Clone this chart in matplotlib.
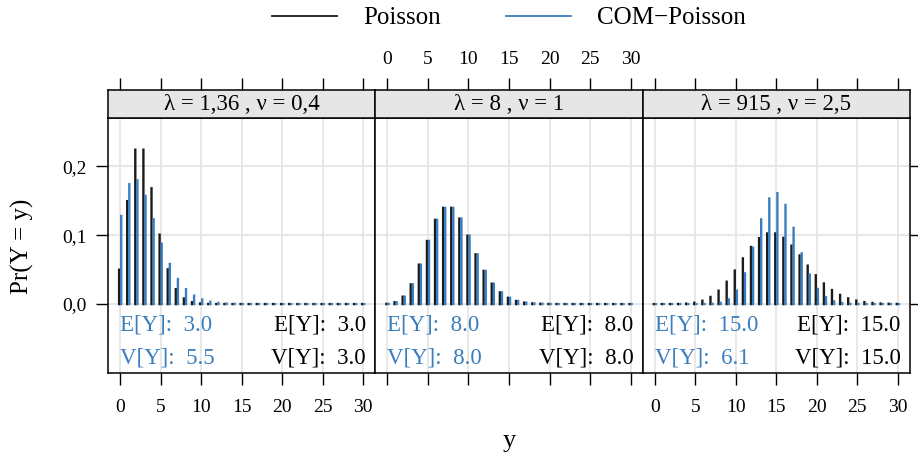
import matplotlib
matplotlib.use("Agg")
import matplotlib.pyplot as plt
from matplotlib.lines import Line2D
import numpy as np

plt.rcParams['font.family'] = ['Liberation Serif', 'DejaVu Serif']

y_vals = list(range(0, 31))

# Panel titles (lambda, nu)
strip_labels = ["λ = 1,36 , ν = 0,4", "λ = 8 , ν = 1", "λ = 915 , ν = 2,5"]

# Poisson probabilities per panel
pois_1 = [0.0498, 0.1494, 0.2240, 0.2240, 0.1680, 0.1008, 0.0504, 0.0216, 0.0081,
          0.0027, 0.0008, 0.0002, 0.00006, 0.00001, 0.000005, 0.000005, 0.000005,
          0.000005, 0.000005, 0.000005, 0.000005, 0.000005, 0.000005, 0.000005,
          0.000005, 0.000005, 0.000005, 0.000005, 0.000005, 0.000005, 0.000005]
com_1 = [0.128, 0.174, 0.1796, 0.157, 0.123, 0.0877, 0.0583, 0.0364, 0.0215,
         0.0122, 0.0066, 0.0034, 0.0017, 0.0008, 0.0004, 0.0002, 0.0001, 0.00005,
         0.00002, 0.00001, 0.000005, 0.000005, 0.000005, 0.000005, 0.000005,
         0.000005, 0.000005, 0.000005, 0.000005, 0.000005, 0.000005]
pois_2 = [0.000335, 0.00268, 0.01073, 0.02863, 0.05725, 0.09160, 0.12214, 0.13959,
          0.13959, 0.12408, 0.09926, 0.07219, 0.04813, 0.02962, 0.01692, 0.00903,
          0.00451, 0.00212, 0.00094, 0.00040, 0.00016, 0.00006, 0.00002, 0.00001,
          0.000005, 0.000005, 0.000005, 0.000005, 0.000005, 0.000005, 0.000005]
com_2 = [0.000335, 0.00268, 0.01073, 0.02863, 0.05725, 0.09160, 0.12214, 0.13959,
         0.13959, 0.12408, 0.09926, 0.07219, 0.04813, 0.02962, 0.01692, 0.00903,
         0.00451, 0.00212, 0.00094, 0.00040, 0.00016, 0.00006, 0.00002, 0.00001,
         0.000005, 0.000005, 0.000005, 0.000005, 0.000005, 0.000005, 0.000005]
pois_3 = [0.000005, 0.000005, 0.00003, 0.00017, 0.00065, 0.00194, 0.00484, 0.01037,
          0.01944, 0.03241, 0.04861, 0.06629, 0.08286, 0.09561, 0.10244, 0.10244,
          0.09604, 0.08474, 0.07061, 0.05575, 0.04181, 0.02986, 0.02036, 0.01328,
          0.00830, 0.00498, 0.00287, 0.00160, 0.00086, 0.00044, 0.00022]
com_3 = [0.000005, 0.000005, 0.000005, 0.000005, 0.000005, 0.000005, 0.00003, 0.00036,
         0.0018, 0.0068, 0.0196, 0.0446, 0.0818, 0.1229, 0.1533, 0.1610,
         0.1439, 0.1105, 0.0736, 0.0428, 0.0219, 0.0099, 0.0040, 0.00144,
         0.00045, 0.00013, 0.00003, 0.00001, 0.000005, 0.000005, 0.000005]

# Moments text
com_mean = ["3.0", "8.0", "15.0"]
com_var = ["5.5", "8.0", "6.1"]
pois_mean = ["3.0", "8.0", "15.0"]
pois_var = ["3.0", "8.0", "15.0"]

x_ticks = [0, 5, 10, 15, 20, 25, 30]
y_ticks = [0.0, 0.1, 0.2]
y_ticklabels = ["0,0", "0,1", "0,2"]

BLUE = "#3A7EBF"
BLACK = "#1a1a1a"
GRID = "#e6e6e6"

W, H = 918, 457
fig = plt.figure(figsize=(W / 100, H / 100), dpi=100)

left_px, right_px = 108, 910
top_px, bot_px = 118, 373
strip_top = 90
pw = (right_px - left_px) / 3

pois_all = [pois_1, pois_2, pois_3]
com_all = [com_1, com_2, com_3]

tick_len = 8.6
cap = 0.0017  # emulates the round line end of the bars at the baseline
for i in range(3):
    x0 = left_px + i * pw
    ax = fig.add_axes([x0 / W, 1 - bot_px / H, pw / W, (bot_px - top_px) / H])
    sax = fig.add_axes([x0 / W, 1 - top_px / H, pw / W, (top_px - strip_top) / H])

    ax.set_xlim(-1.5, 31.5)
    ax.set_ylim(-0.1, 0.27)
    for xt in x_ticks:
        ax.axvline(xt, color=GRID, lw=1.3, zorder=0)
    for yt in y_ticks:
        ax.axhline(yt, color=GRID, lw=1.3, zorder=0)

    xv = np.array(y_vals, dtype=float)
    ax.vlines(xv - 0.13, -cap, np.array(pois_all[i]) + cap, color=BLACK, lw=1.7,
              zorder=3, snap=False)
    ax.vlines(xv + 0.13, -cap, np.array(com_all[i]) + cap, color=BLUE, lw=1.7,
              zorder=3, snap=False)

    ax.set_xticks(x_ticks)
    ax.tick_params(axis='x', direction='out', length=tick_len, width=1, color='black',
                   labelsize=14, pad=10, labelbottom=(i != 1))
    if i == 0:
        ax.set_yticks(y_ticks)
        ax.set_yticklabels(y_ticklabels)
        ax.tick_params(axis='y', direction='out', length=tick_len, width=1,
                       labelsize=14, pad=7, left=True, right=False)
    elif i == 2:
        ax.set_yticks(y_ticks)
        ax.yaxis.tick_right()
        ax.tick_params(axis='y', direction='out', length=tick_len, width=1,
                       labelright=False, labelleft=False, right=True, left=False)
    else:
        ax.set_yticks([])
    for sp in ax.spines.values():
        sp.set_linewidth(1.1)
        sp.set_color('black')

    fs = 16.5
    ax.text(0.045, 0.19, f"E[Y]:  {com_mean[i]}", color=BLUE, fontsize=fs,
            transform=ax.transAxes, ha='left', va='center')
    ax.text(0.045, 0.06, f"V[Y]:  {com_var[i]}", color=BLUE, fontsize=fs,
            transform=ax.transAxes, ha='left', va='center')
    ax.text(0.965, 0.19, f"E[Y]:  {pois_mean[i]}", color='black', fontsize=fs,
            transform=ax.transAxes, ha='right', va='center')
    ax.text(0.965, 0.06, f"V[Y]:  {pois_var[i]}", color='black', fontsize=fs,
            transform=ax.transAxes, ha='right', va='center')

    # strip
    sax.set_facecolor('#e6e6e6')
    sax.set_xlim(-1.5, 31.5)
    sax.set_ylim(0, 1)
    sax.set_yticks([])
    sax.set_xticks(x_ticks)
    sax.xaxis.tick_top()
    sax.tick_params(axis='x', direction='out', length=tick_len, width=1,
                    labelsize=14, pad=7, labeltop=(i == 1), labelbottom=False,
                    bottom=False, top=True)
    for sp in sax.spines.values():
        sp.set_linewidth(1.1)
    sax.text(0.5, 0.5, strip_labels[i], transform=sax.transAxes, ha='center',
             va='center', fontsize=16.5)

fig.text(22 / W, 1 - 246 / H, "Pr(Y = y)", rotation=90, ha='center', va='center',
         fontsize=18)
fig.text((left_px + right_px) / 2 / W, 1 - 441 / H, "y", ha='center', va='center',
         fontsize=19)

handles = [Line2D([], [], color=BLACK, lw=1.3), Line2D([], [], color=BLUE, lw=1.3)]
fig.legend(handles, ["Poisson", "COM\u2212Poisson"], loc='center',
           bbox_to_anchor=(0.554, 1 - 18 / H), ncol=2, frameon=False, fontsize=18,
           handlelength=2.6, handletextpad=1.05, columnspacing=2.6)

fig.savefig("out.png", dpi=100)
